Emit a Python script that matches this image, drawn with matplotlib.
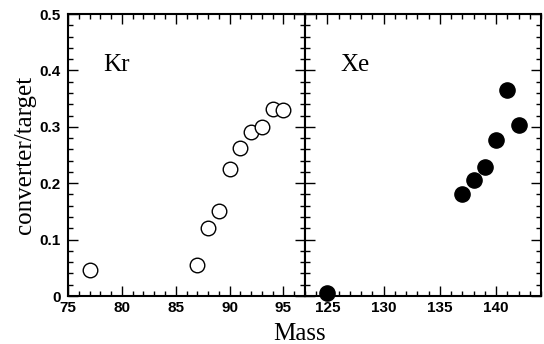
import matplotlib
matplotlib.use("Agg")
import matplotlib.pyplot as plt
from matplotlib.ticker import MultipleLocator

# Kr isotopes (open circles)
kr_mass = [77, 87, 88, 89, 90, 91, 92, 93, 94, 95]
kr_ratio = [0.047, 0.055, 0.121, 0.150, 0.225, 0.262, 0.290, 0.300, 0.332, 0.329]

# Xe isotopes (filled circles)
xe_mass = [125, 137, 138, 139, 140, 141, 142]
xe_ratio = [0.005, 0.180, 0.205, 0.228, 0.276, 0.366, 0.304]

SERIF = ["Liberation Serif", "DejaVu Serif"]
SANS = ["Liberation Sans", "DejaVu Sans"]
TICKFONT = dict(fontfamily=SANS, fontweight="bold", fontsize=11)

fig = plt.figure(figsize=(5.44, 3.44), dpi=100)
ax1 = fig.add_axes([0.125, 0.1395, 0.4357, 0.8198])
ax2 = fig.add_axes([0.5607, 0.1395, 0.4338, 0.8198])

ax1.scatter(kr_mass, kr_ratio, s=110, facecolors="white", edgecolors="black",
            linewidths=1.0, zorder=3, clip_on=False)
ax2.scatter(xe_mass, xe_ratio, s=120, color="black", zorder=3, clip_on=False)

ax1.set_xlim(75, 97)
ax2.set_xlim(123, 144)
for ax in (ax1, ax2):
    ax.set_ylim(0, 0.5)
    ax.xaxis.set_major_locator(MultipleLocator(5))
    ax.xaxis.set_minor_locator(MultipleLocator(1))
    ax.yaxis.set_major_locator(MultipleLocator(0.1))
    ax.yaxis.set_minor_locator(MultipleLocator(0.02))
    ax.tick_params(which="both", direction="in", top=True, right=True,
                   width=1.0)
    ax.tick_params(axis="x", pad=3.5)
    ax.tick_params(axis="y", pad=5)
    ax.tick_params(which="major", length=7)
    ax.tick_params(which="minor", length=3.5)
    for sp in ax.spines.values():
        sp.set_linewidth(1.5)

ax1.set_yticks([0, 0.1, 0.2, 0.3, 0.4, 0.5])
ax1.set_yticklabels(["0", "0.1", "0.2", "0.3", "0.4", "0.5"], **TICKFONT)
ax1.set_xticks([75, 80, 85, 90, 95])
ax1.set_xticklabels(["75", "80", "85", "90", "95"], **TICKFONT)
ax2.set_xticks([125, 130, 135, 140])
ax2.set_xticklabels(["125", "130", "135", "140"], **TICKFONT)
ax2.tick_params(labelleft=False)

ax1.text(0.15, 0.82, "Kr", transform=ax1.transAxes, fontsize=18,
         fontfamily=SERIF, va="center")
ax2.text(0.15, 0.82, "Xe", transform=ax2.transAxes, fontsize=18,
         fontfamily=SERIF, va="center")

ax1.set_ylabel("converter/target", fontsize=18, fontfamily=SERIF, labelpad=3)
fig.text(0.551, 0.03, "Mass", fontsize=18, fontfamily=SERIF,
         ha="center", va="center")

fig.savefig("out.png", dpi=100)
